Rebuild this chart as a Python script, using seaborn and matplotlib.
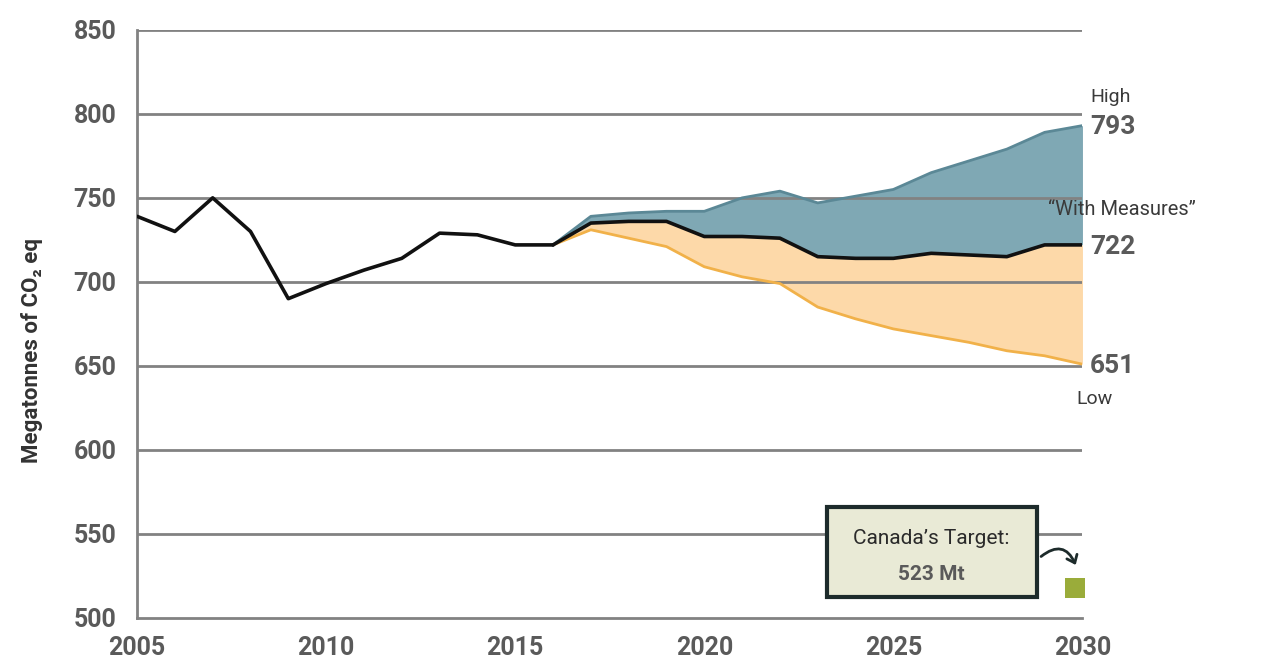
import numpy as np
import pandas as pd
import matplotlib.pyplot as plt
import seaborn as sns
from matplotlib.patches import FancyArrowPatch, Rectangle

# ── Data ─────────────────────────────────────────────────────
hist_years = list(range(2005, 2017))
hist_vals = [739, 730, 750, 730, 690, 699, 707, 714, 729, 728, 722, 722]

proj_years = list(range(2016, 2031))
high_vals = [722, 739, 741, 742, 742, 750, 754, 747, 751, 755, 765, 772, 779, 789, 793]
wm_vals = [722, 735, 736, 736, 727, 727, 726, 715, 714, 714, 717, 716, 715, 722, 722]
low_vals = [722, 731, 726, 721, 709, 703, 699, 685, 678, 672, 668, 664, 659, 656, 651]

# target square, label value from the box
target_year = 2029.8
target_marker_val = 518
target_label = 523

y_ticks = [500, 550, 600, 650, 700, 750, 800, 850]
x_ticks = [2005, 2010, 2015, 2020, 2025, 2030]

# ── Style ────────────────────────────────────────────────────
sns.set_theme(style="white")
plt.rcParams['font.family'] = ['Roboto', 'DejaVu Sans']

GRID = '#828282'
LABEL = '#5a5a5a'
TEAL = '#7fa8b4'
TEAL_EDGE = '#5b8896'
ORANGE = '#fdd9a9'
ORANGE_EDGE = '#f1b149'
DARK = '#1d2b2b'

fig = plt.figure(figsize=(12.69, 6.63), dpi=100)
ax = fig.add_axes([0.108, 0.068, 0.745, 0.887])

proj = pd.DataFrame({'year': proj_years, 'high': high_vals,
                     'wm': wm_vals, 'low': low_vals})
hist = pd.DataFrame({'year': hist_years, 'value': hist_vals})

# fan
ax.fill_between(proj['year'], proj['wm'], proj['high'], color=TEAL, lw=0, zorder=1)
ax.fill_between(proj['year'], proj['low'], proj['wm'], color=ORANGE, lw=0, zorder=1)

# gridlines over the fan
for v in y_ticks[1:]:
    ax.axhline(v, color=GRID, lw=2, zorder=2)

sns.lineplot(data=proj, x='year', y='high', ax=ax, color=TEAL_EDGE, lw=2, zorder=3)
sns.lineplot(data=proj, x='year', y='low', ax=ax, color=ORANGE_EDGE, lw=2, zorder=3)
sns.lineplot(data=proj, x='year', y='wm', ax=ax, color='#111111', lw=2.6, zorder=4)
sns.lineplot(data=hist, x='year', y='value', ax=ax, color='#111111', lw=2.6, zorder=4)

# target marker
ax.scatter([target_year], [target_marker_val], marker='s', s=190, color='#9aac3a',
           zorder=7, clip_on=False, linewidths=0)

ax.set_xlim(2005, 2030)
ax.set_ylim(500, 850)
ax.set_yticks(y_ticks)
ax.set_xticks(range(2005, 2031))
ax.set_xticklabels([str(y) if y in x_ticks else '' for y in range(2005, 2031)])
ax.set_xlabel('')
ax.set_ylabel('Megatonnes of CO₂ eq', fontsize=16, fontweight='bold',
              color='#333333')
ax.yaxis.set_label_coords(-0.1, 0.455)

for s in ['top', 'right']:
    ax.spines[s].set_visible(False)
for s in ['left', 'bottom']:
    ax.spines[s].set_color(GRID)
    ax.spines[s].set_linewidth(2)

ax.tick_params(axis='both', direction='out', color=GRID, width=2, length=9,
               labelcolor=LABEL, labelsize=18, pad=4)
ax.tick_params(axis='y', length=9, pad=6)
for t in ax.get_xticklabels() + ax.get_yticklabels():
    t.set_fontweight('bold')

# right-hand labels
lab = dict(clip_on=False, va='center', ha='left')
ax.text(2030.2, 810, 'High', fontsize=14, color='#3a3a3a', **lab)
ax.text(2030.2, 792, '793', fontsize=19, fontweight='bold', color=LABEL, **lab)
ax.text(2029.1, 743, '“With Measures”', fontsize=14.5, color='#3a3a3a', **lab)
ax.text(2030.2, 721, '722', fontsize=19, fontweight='bold', color=LABEL, **lab)
ax.text(2030.2, 650, '651', fontsize=19, fontweight='bold', color=LABEL, **lab)
ax.text(2029.85, 630, 'Low', fontsize=14, color='#3a3a3a', **lab)

# target box
ax.add_patch(Rectangle((2023.25, 512.5), 5.55, 53.5, fc='#e9ead6', ec=DARK,
                       lw=3, zorder=5, clip_on=False))
ax.text(2026.0, 547, 'Canada’s Target:', fontsize=15, ha='center', va='center',
        color='#2a2a2a', zorder=6)
ax.text(2026.0, 526, f'{target_label} Mt', fontsize=15, fontweight='bold',
        ha='center', va='center', color=LABEL, zorder=6)
ax.add_patch(FancyArrowPatch((2028.85, 535.5), (2029.85, 530),
                             connectionstyle='arc3,rad=-0.7',
                             arrowstyle='->,head_length=5,head_width=4',
                             color=DARK, lw=2, zorder=6, clip_on=False))

plt.savefig('out.png', dpi=100)
